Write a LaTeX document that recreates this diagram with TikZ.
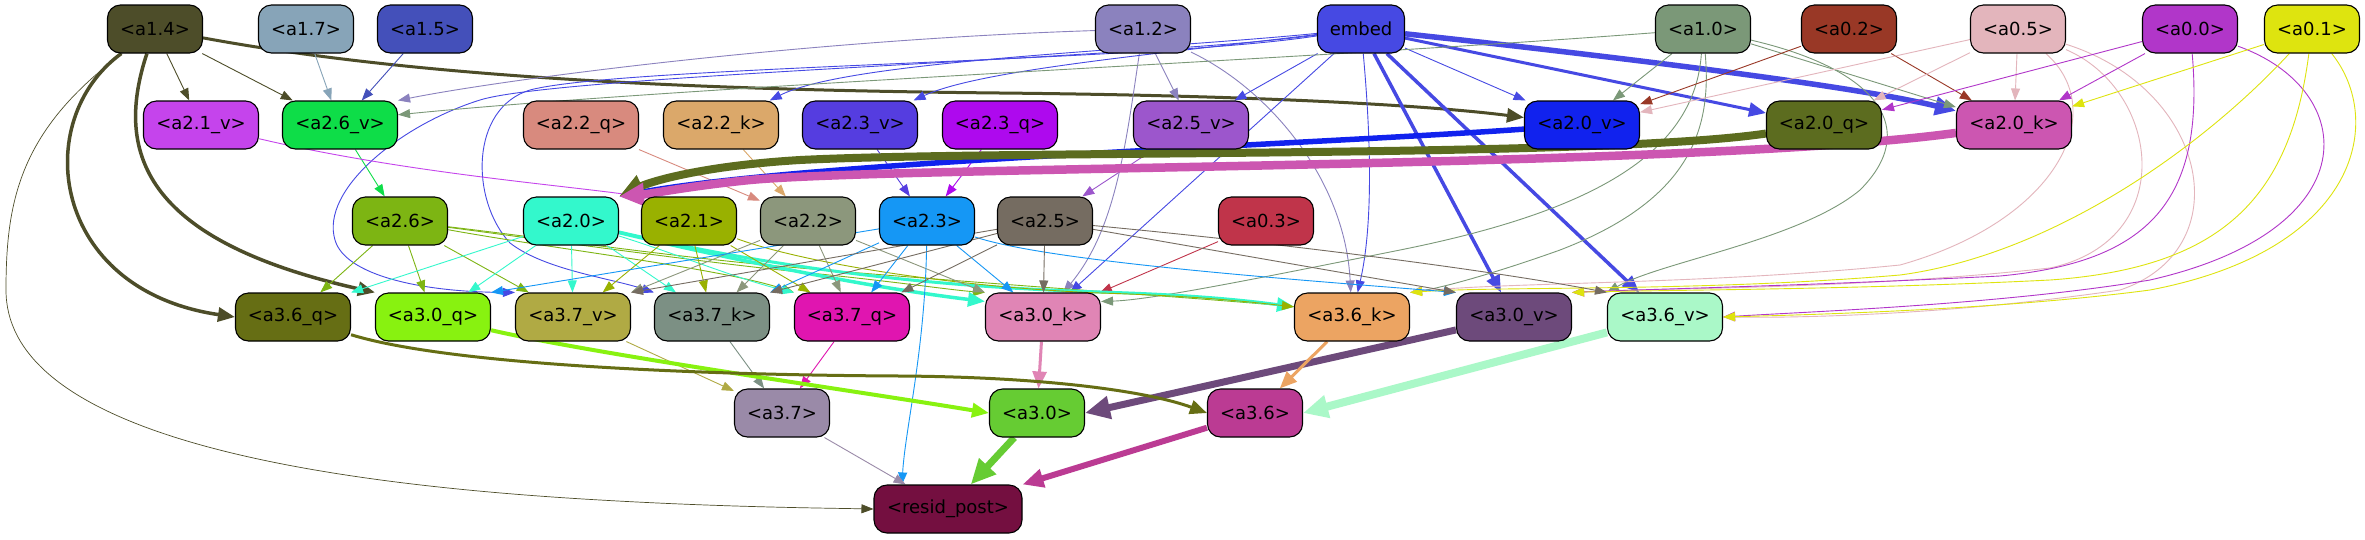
\documentclass[tikz,border=0pt]{standalone}
\usepackage{fontspec}
\setmainfont{DejaVu Sans}
\usetikzlibrary{arrows.meta,calc}
\pgfdeclarelayer{bg}
\pgfsetlayers{bg,main}
\definecolor{c14}{HTML}{4D4D29}
\definecolor{c17}{HTML}{87A4B8}
\definecolor{c15}{HTML}{4450BA}
\definecolor{c12}{HTML}{8B82BE}
\definecolor{cemb}{HTML}{4649E3}
\definecolor{c10}{HTML}{7B9878}
\definecolor{c02}{HTML}{993826}
\definecolor{c05}{HTML}{E3B5BC}
\definecolor{c00}{HTML}{B136C9}
\definecolor{c01}{HTML}{DEE40F}
\definecolor{c21v}{HTML}{C544EC}
\definecolor{c26v}{HTML}{0EDD48}
\definecolor{c22q}{HTML}{D88A7E}
\definecolor{c22k}{HTML}{DBA86A}
\definecolor{c23v}{HTML}{553DE0}
\definecolor{c23q}{HTML}{AE09EE}
\definecolor{c25v}{HTML}{9C56CC}
\definecolor{c20v}{HTML}{1122EE}
\definecolor{c20q}{HTML}{5C6C1F}
\definecolor{c20k}{HTML}{CC56B1}
\definecolor{c26}{HTML}{7DB513}
\definecolor{c20}{HTML}{33F8CC}
\definecolor{c21}{HTML}{99B100}
\definecolor{c22}{HTML}{8C977C}
\definecolor{c23}{HTML}{1597F5}
\definecolor{c25}{HTML}{756C61}
\definecolor{c03}{HTML}{C0344A}
\definecolor{c36q}{HTML}{666E14}
\definecolor{c30q}{HTML}{88F210}
\definecolor{c37v}{HTML}{B0AA44}
\definecolor{c37k}{HTML}{7C9084}
\definecolor{c37q}{HTML}{E015B0}
\definecolor{c30k}{HTML}{E085B5}
\definecolor{c36k}{HTML}{ECA462}
\definecolor{c30v}{HTML}{6D4A7B}
\definecolor{c36v}{HTML}{AAF8C8}
\definecolor{c37}{HTML}{9A8AA8}
\definecolor{c30}{HTML}{66CC33}
\definecolor{c36}{HTML}{BB3B93}
\definecolor{crp}{HTML}{740F40}
\tikzset{
  base/.style={draw=black, line width=1.1pt, rounded corners=13pt, minimum height=48pt, inner sep=0pt, text=black, font=\fontsize{18}{21}\selectfont},
  sb/.style={base, minimum width=95pt},
  wb/.style={base, minimum width=115pt},
  ed/.style={line width=0.9pt, -{Triangle[length=12pt,width=9pt]}},
  tC/.style={-{Triangle[length=17pt,width=14pt]}},
  tD/.style={-{Triangle[length=21pt,width=18pt]}},
  tE/.style={-{Triangle[length=25pt,width=22pt]}},
}
\begin{document}
\begin{tikzpicture}[x=1pt,y=-1pt]
\useasboundingbox (0,0) rectangle (2365,539);
% row 1
\node[sb, fill=c14] (a14) at (155,29) {<a1.4>};
\node[sb, fill=c17] (a17) at (306,29) {<a1.7>};
\node[sb, fill=c15] (a15) at (425,29) {<a1.5>};
\node[sb, fill=c12] (a12) at (1143,29) {<a1.2>};
\node[base, minimum width=87pt, fill=cemb] (emb) at (1361,29) {embed};
\node[sb, fill=c10] (a10) at (1703,29) {<a1.0>};
\node[sb, fill=c02] (a02) at (1849,29) {<a0.2>};
\node[sb, fill=c05] (a05) at (2018,29) {<a0.5>};
\node[sb, fill=c00] (a00) at (2190,29) {<a0.0>};
\node[sb, fill=c01] (a01) at (2312,29) {<a0.1>};
% row 2
\node[wb, fill=c21v] (a21v) at (201,125) {<a2.1\_v>};
\node[wb, fill=c26v] (a26v) at (340,125) {<a2.6\_v>};
\node[wb, fill=c22q] (a22q) at (581,125) {<a2.2\_q>};
\node[wb, fill=c22k] (a22k) at (721,125) {<a2.2\_k>};
\node[wb, fill=c23v] (a23v) at (860,125) {<a2.3\_v>};
\node[wb, fill=c23q] (a23q) at (1000,125) {<a2.3\_q>};
\node[wb, fill=c25v] (a25v) at (1191,125) {<a2.5\_v>};
\node[wb, fill=c20v] (a20v) at (1582,125) {<a2.0\_v>};
\node[wb, fill=c20q] (a20q) at (1824,125) {<a2.0\_q>};
\node[wb, fill=c20k] (a20k) at (2014,125) {<a2.0\_k>};
% row 3
\node[sb, fill=c26] (a26) at (400,221) {<a2.6>};
\node[sb, fill=c20] (a20) at (571,221) {<a2.0>};
\node[sb, fill=c21] (a21) at (689,221) {<a2.1>};
\node[sb, fill=c22] (a22) at (808,221) {<a2.2>};
\node[sb, fill=c23] (a23) at (927,221) {<a2.3>};
\node[sb, fill=c25] (a25) at (1045,221) {<a2.5>};
\node[sb, fill=c03] (a03) at (1266,221) {<a0.3>};
% row 4
\node[wb, fill=c36q] (a36q) at (293,317) {<a3.6\_q>};
\node[wb, fill=c30q] (a30q) at (433,317) {<a3.0\_q>};
\node[wb, fill=c37v] (a37v) at (573,317) {<a3.7\_v>};
\node[wb, fill=c37k] (a37k) at (712,317) {<a3.7\_k>};
\node[wb, fill=c37q] (a37q) at (852,317) {<a3.7\_q>};
\node[wb, fill=c30k] (a30k) at (1043,317) {<a3.0\_k>};
\node[wb, fill=c36k] (a36k) at (1352,317) {<a3.6\_k>};
\node[wb, fill=c30v] (a30v) at (1514,317) {<a3.0\_v>};
\node[wb, fill=c36v] (a36v) at (1665,317) {<a3.6\_v>};
% row 5
\node[sb, fill=c37] (a37) at (782,413) {<a3.7>};
\node[sb, fill=c30] (a30) at (1037,413) {<a3.0>};
\node[sb, fill=c36] (a36) at (1255,413) {<a3.6>};
% row 6
\node[base, minimum width=148pt, fill=crp] (rp) at (948,509) {<resid\_post>};

\begin{pgfonlayer}{bg}
\fill[white] (0,0) rectangle (2365,539);
% a1.4
\draw[ed, c14] (a14) -- (a21v);
\draw[ed, c14] (a14) -- (a26v);
\draw[ed, c14, line width=3pt, tC] (a14) .. controls (420,78) and (700,90) .. (1000,93) .. controls (1300,96) and (1450,108) .. (a20v);
\draw[ed, c14, line width=3.5pt, tC] (a14) .. controls (30,120) and (50,290) .. (a36q.west);
\draw[ed, c14, line width=3.5pt, tC] (a14) .. controls (115,150) and (140,240) .. (a30q.north west);
\draw[ed, c14, line width=0.7pt] (a14) .. controls (20,130) and (6,200) .. (6,290) .. controls (6,420) and (250,480) .. (600,500) .. controls (720,507) and (820,508) .. (rp.west);
% a1.7 a1.5
\draw[ed, c17] (a17) -- (a26v);
\draw[ed, c15] (a15) -- (a26v);
% a1.2
\draw[ed, c12] (a12) .. controls (800,40) and (500,80) .. (a26v.north east);
\draw[ed, c12] (a12) -- (a25v);
\draw[ed, c12] (a12) .. controls (1125,150) and (1115,230) .. (a30k);
\draw[ed, c12] (a12) .. controls (1270,90) and (1345,180) .. (a36k);
% embed
\draw[ed, cemb] (emb) .. controls (1150,50) and (850,60) .. (a22k);
\draw[ed, cemb] (emb) .. controls (1150,55) and (980,70) .. (a23v);
\draw[ed, cemb] (emb) -- (a25v);
\draw[ed, cemb] (emb) -- (a20v);
\draw[ed, cemb, line width=3pt, tC] (emb) -- (a20q);
\draw[ed, cemb, line width=5.5pt, tD] (emb) .. controls (1600,55) and (1850,85) .. (a20k);
\draw[ed, cemb, line width=3.5pt, tC] (emb) -- (a30v);
\draw[ed, cemb, line width=3.5pt, tC] (emb) -- (a36v);
\draw[ed, cemb] (emb) .. controls (1372,150) and (1372,230) .. (a36k);
\draw[ed, cemb] (emb) -- (a30k);
\draw[ed, cemb] (emb) .. controls (1150,58) and (560,75) .. (480,100) .. controls (400,125) and (320,190) .. (335,240) .. controls (345,275) and (420,292) .. (a37v.north west);
\draw[ed, cemb] (emb) .. controls (1150,62) and (620,66) .. (530,90) .. controls (470,108) and (470,200) .. (510,243) .. controls (545,270) and (610,278) .. (a37k.north west);
% a1.0
\draw[ed, c10] (a10) .. controls (1300,60) and (700,85) .. (a26v.10);
\draw[ed, c10] (a10) -- (a20v);
\draw[ed, c10] (a10) -- (a20k);
\draw[ed, c10] (a10) .. controls (1695,150) and (1600,210) .. (1400,250) .. controls (1250,280) and (1150,300) .. (a30k.15);
\draw[ed, c10] (a10) .. controls (1712,130) and (1690,200) .. (1560,250) .. controls (1490,275) and (1440,288) .. (a36k.north east);
\draw[ed, c10] (a10) .. controls (1880,70) and (1920,130) .. (1860,190) .. controls (1800,240) and (1660,262) .. (a36v.north west);
% a0.2
\draw[ed, c02] (a02) -- (a20v);
\draw[ed, c02] (a02) -- (a20k);
% a0.5
\draw[ed, c05] (a05) -- (a20v);
\draw[ed, c05] (a05) -- (a20q);
\draw[ed, c05] (a05) -- (a20k);
\draw[ed, c05] (a05) .. controls (2110,110) and (2060,220) .. (1900,265) .. controls (1700,285) and (1500,282) .. (a36k.north east);
\draw[ed, c05] (a05) .. controls (2160,90) and (2180,240) .. (2050,268) .. controls (1850,290) and (1650,288) .. (a30v.north east);
\draw[ed, c05] (a05) .. controls (2210,90) and (2240,250) .. (2120,290) .. controls (1950,315) and (1800,318) .. (a36v.east);
% a0.0
\draw[ed, c00] (a00) -- (a20q);
\draw[ed, c00] (a00) -- (a20k);
\draw[ed, c00] (a00) .. controls (2205,200) and (2150,262) .. (2000,276) .. controls (1800,286) and (1650,289) .. (a30v.north east);
\draw[ed, c00] (a00) .. controls (2360,90) and (2370,230) .. (2150,280) .. controls (2000,305) and (1800,312) .. (a36v.east);
% a0.1
\draw[ed, c01] (a01) -- (a20k);
\draw[ed, c01] (a01) .. controls (2200,150) and (2050,255) .. (1900,275) .. controls (1700,292) and (1500,286) .. (a36k.north east);
\draw[ed, c01] (a01) .. controls (2290,200) and (2220,268) .. (2050,280) .. controls (1850,290) and (1650,290) .. (a30v.north east);
\draw[ed, c01] (a01) .. controls (2385,120) and (2360,250) .. (2150,290) .. controls (2000,310) and (1800,315) .. (a36v.east);
% a0.3
\draw[ed, c03] (a03) -- (a30k);
% row 2 -> row 3
\draw[ed, c26v] (a26v) -- (a26);
\draw[ed, c21v] (a21v) .. controls (400,172) and (560,185) .. (a21.north west);
\draw[ed, c22q] (a22q) -- (a22);
\draw[ed, c22k] (a22k) -- (a22);
\draw[ed, c23v] (a23v) -- (a23);
\draw[ed, c23q] (a23q) -- (a23);
\draw[ed, c25v] (a25v) -- (a25);
\draw[ed, c20v, line width=5.5pt, tD] (a20v) .. controls (1300,145) and (800,162) .. (a20.north east);
\draw[ed, c20q, line width=8pt, tE] (a20q) .. controls (1600,158) and (1000,150) .. (800,160) .. controls (700,166) and (650,182) .. (a20.north east);
\draw[ed, c20k, line width=8.5pt, tE] (a20k) .. controls (1700,168) and (900,166) .. (750,180) .. controls (690,186) and (650,194) .. (a20.north east);
% a2.6
\draw[ed, c26] (a26) -- (a36q);
\draw[ed, c26] (a26) -- (a30q);
\draw[ed, c26] (a26) -- (a37v);
\draw[ed, c26] (a26) .. controls (560,250) and (720,268) .. (a37q.north west);
\draw[ed, c26] (a26) .. controls (560,242) and (700,262) .. (800,272) .. controls (900,282) and (950,290) .. (a30k.north west);
\draw[ed, c26] (a26) .. controls (560,240) and (680,258) .. (800,268) .. controls (1000,285) and (1200,298) .. (a36k.170);
% a2.0
\draw[ed, c20] (a20) -- (a36q.north east);
\draw[ed, c20] (a20) -- (a30q);
\draw[ed, c20] (a20) -- (a37v);
\draw[ed, c20] (a20) -- (a37k);
\draw[ed, c20] (a20) .. controls (680,255) and (740,280) .. (a37q.north west);
\draw[ed, c20, line width=3.5pt, tC] (a20) .. controls (700,252) and (850,285) .. (a30k.165);
\draw[ed, c20, line width=3pt, tC] (a20) .. controls (750,262) and (900,286) .. (1100,292) .. controls (1200,295) and (1250,301) .. (a36k.170);
% a2.1
\draw[ed, c21] (a21) -- (a37v);
\draw[ed, c21] (a21) -- (a37k);
\draw[ed, c21] (a21) -- (a37q);
\draw[ed, c21] (a21) .. controls (800,262) and (950,287) .. (1100,293) .. controls (1200,296) and (1250,302) .. (a36k.170);
% a2.2
\draw[ed, c22] (a22) -- (a37v.north east);
\draw[ed, c22] (a22) -- (a37k);
\draw[ed, c22] (a22) -- (a37q);
\draw[ed, c22] (a22) -- (a30k.north west);
% a2.3
\draw[ed, c23] (a23) -- (a30q.north east);
\draw[ed, c23] (a23) -- (a37k.north east);
\draw[ed, c23] (a23) -- (a37q);
\draw[ed, c23] (a23) -- (a30k);
\draw[ed, c23] (a23) .. controls (1050,262) and (1300,280) .. (a30v.north west);
\draw[ed, c23] (a23) .. controls (925,350) and (905,430) .. ($(rp.north)+(-46,0)$);
% a2.5
\draw[ed, c25] (a25) -- (a37v.north east);
\draw[ed, c25] (a25) -- (a37k.north east);
\draw[ed, c25] (a25) -- (a37q);
\draw[ed, c25] (a25) -- (a30k);
\draw[ed, c25] (a25) -- (a30v.north west);
\draw[ed, c25] (a25) .. controls (1300,245) and (1500,272) .. (a36v.north west);
% row 4 -> row 5
\draw[ed, c37v] (a37v) -- (a37);
\draw[ed, c37k] (a37k) -- (a37);
\draw[ed, c37q] (a37q) -- (a37);
\draw[ed, c30k, line width=3pt, tC] (a30k) -- (a30);
\draw[ed, c30q, line width=4pt, tC] (a30q) .. controls (600,355) and (850,390) .. (a30.west);
\draw[ed, c30v, line width=7pt, tE] (a30v) -- (a30.east);
\draw[ed, c36q, line width=3pt, tC] (a36q) .. controls (450,365) and (700,375) .. (900,376) .. controls (1050,377) and (1150,392) .. (a36.west);
\draw[ed, c36k, line width=3pt, tC] (a36k) -- (a36);
\draw[ed, c36v, line width=8pt, tE] (a36v) -- (a36.east);
% row 5 -> row 6
\draw[ed, c37] (a37) -- (rp);
\draw[ed, c30, line width=7pt, tE] (a30) -- (rp);
\draw[ed, c36, line width=6pt, tD] (a36) -- (rp.north east);
\end{pgfonlayer}
\end{tikzpicture}
\end{document}
